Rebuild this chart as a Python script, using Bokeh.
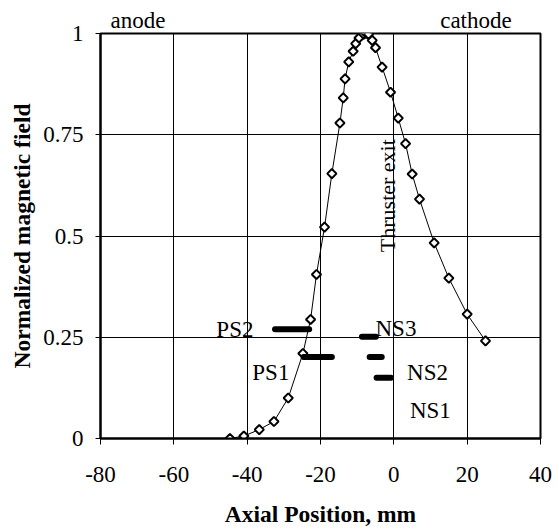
import numpy as np
from bokeh.plotting import figure
from bokeh.models import Range1d, FixedTicker, Label, LinearAxis
from bokeh.embed import file_html
from bokeh.resources import INLINE

# ---- data ----
axial_pos = [-44.7, -40.9, -36.7, -32.7, -28.8, -24.8, -22.7, -21.1, -18.9, -16.9,
             -14.7, -13.8, -13.3, -12.3, -11.1, -10.4, -9.5, -8.2, -7.5, -6.9,
             -5.9, -5.0, -3.2, -0.9, 1.2, 3.2, 5.0, 7.0, 11.0, 15.0, 20.0, 25.0]
norm_field = [0.0, 0.006, 0.022, 0.042, 0.10, 0.21, 0.294, 0.405, 0.522, 0.654,
              0.779, 0.841, 0.888, 0.930, 0.956, 0.975, 0.989, 0.998, 1.0, 0.998,
              0.983, 0.965, 0.917, 0.855, 0.791, 0.728, 0.653, 0.591, 0.483, 0.396, 0.307, 0.241]

probe_names = ["PS2", "PS1", "NS3", "NS2", "NS1"]
probe_start = [-32.4, -24.6, -8.7, -6.6, -4.7]
probe_end = [-23.1, -16.9, -4.9, -3.3, -0.8]
probe_level = [0.27, 0.201, 0.251, 0.201, 0.150]

x_ticks = [-80, -60, -40, -20, 0, 20, 40]
x_tick_labels = ["-80", "-60", "-40", "-20", "0", "20", "40"]
y_ticks = [0, 0.25, 0.5, 0.75, 1]
y_tick_labels = ["0", "0.25", "0.5", "0.75", "1"]

region_names = ["anode", "cathode"]

# annotation anchor positions (data units)
probe_label_x = [-48.4, -38.6, -5.0, 3.6, 4.4]
probe_label_y = [0.27, 0.164, 0.272, 0.164, 0.069]
region_label_x = [-69.8, 22.4]

FONT = "Liberation Serif"
TXT = "23px"

p = figure(width=559, height=529, x_range=Range1d(-80, 40), y_range=Range1d(0, 1),
           output_backend="svg", toolbar_location=None,
           min_border_left=100, min_border_right=19, min_border_top=33, min_border_bottom=91,
           background_fill_color="white", border_fill_color="white")

p.outline_line_color = "black"
p.outline_line_width = 2

p.xaxis.ticker = FixedTicker(ticks=x_ticks)
p.yaxis.ticker = FixedTicker(ticks=y_ticks)
p.xaxis.major_label_overrides = {v: s for v, s in zip(x_ticks, x_tick_labels)}
p.yaxis.major_label_overrides = {v: s for v, s in zip(y_ticks, y_tick_labels)}

for ax in (p.xaxis, p.yaxis):
    ax.axis_line_color = "black"
    ax.axis_line_width = 2
    ax.major_tick_line_color = "black"
    ax.major_tick_in = 0
    ax.minor_tick_line_color = None
    ax.major_label_text_font = FONT
    ax.major_label_text_font_size = TXT
    ax.major_label_text_color = "black"
    ax.axis_label_text_font = FONT
    ax.axis_label_text_font_size = "23.5px"
    ax.axis_label_text_font_style = "bold"
    ax.axis_label_text_color = "black"

p.xaxis.major_tick_out = 6
p.yaxis.major_tick_out = 5
p.xaxis.major_label_standoff = 22
p.yaxis.major_label_standoff = 12
p.xaxis.axis_label = "Axial Position, mm"
p.yaxis.axis_label = "Normalized magnetic field"
p.xaxis.axis_label_standoff = 16
p.yaxis.axis_label_standoff = 5

# region names above the frame
top_axis = LinearAxis(ticker=FixedTicker(ticks=region_label_x),
                      major_label_overrides={v: s for v, s in zip(region_label_x, region_names)},
                      axis_line_color=None, major_tick_line_color=None,
                      minor_tick_line_color=None, major_tick_out=0, major_tick_in=0,
                      major_label_standoff=1, major_label_text_font=FONT,
                      major_label_text_font_size=TXT, major_label_text_color="black")
p.add_layout(top_axis, "above")

p.xgrid.ticker = FixedTicker(ticks=x_ticks)
p.ygrid.ticker = FixedTicker(ticks=y_ticks)
for g in (p.xgrid, p.ygrid):
    g.grid_line_color = "black"
    g.grid_line_alpha = 1.0
    g.grid_line_width = 1

# curve
p.line(axial_pos, norm_field, line_color="black", line_width=1)
p.scatter(axial_pos, norm_field, marker="square", angle=np.pi / 4, size=6.5,
          fill_color="white", line_color="black", line_width=2)

# probe bars
p.segment(x0=probe_start, y0=probe_level, x1=probe_end, y1=probe_level,
          line_color="black", line_width=6, line_cap="round")

for name, lx, ly in zip(probe_names, probe_label_x, probe_label_y):
    p.add_layout(Label(x=lx, y=ly, text=name, text_font=FONT, text_font_size=TXT,
                       text_color="black", text_align="left", text_baseline="alphabetic"))

p.add_layout(Label(x=-1.8, y=0.46, text="Thruster exit", angle=np.pi / 2,
                   text_font=FONT, text_font_size="22px", text_color="black",
                   text_align="left", text_baseline="alphabetic"))

open("out.html", "w").write(file_html(p, INLINE))
